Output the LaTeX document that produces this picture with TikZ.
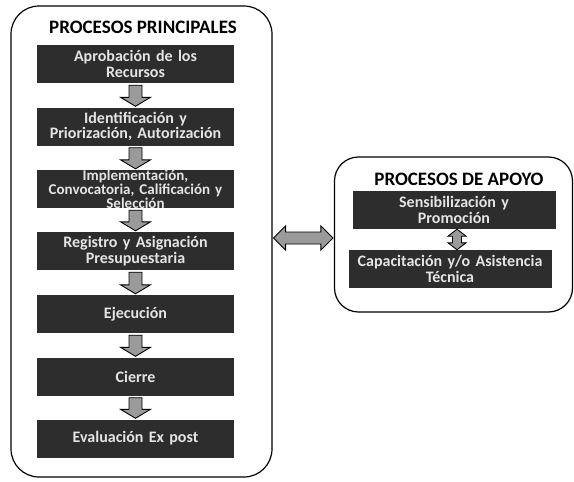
\documentclass[tikz,border=0pt]{standalone}
\usepackage{fontspec}
\setmainfont{Carlito}
\usetikzlibrary{calc}
\definecolor{boxgray}{HTML}{2C2D2C}
\definecolor{boxtext}{HTML}{E4E4E4}
\definecolor{arrowgray}{HTML}{9A9A9A}
\tikzset{
  procbox/.style={fill=boxgray, minimum width=197pt, minimum height=38pt, inner sep=0pt},
  supbox/.style={procbox, minimum width=203pt, minimum height=38pt},
  boxlabel/.style={text=boxtext, font=\bfseries\fontsize{16}{15.5}\selectfont,
    align=center, inner sep=0pt, text width=203pt},
  tightlabel/.style={boxlabel, font=\bfseries\fontsize{15}{14.2}\selectfont},
  frame/.style={draw=black, line width=1.2pt, rounded corners=28pt, rectangle, inner sep=0pt},
  blockarrow/.style={fill=arrowgray, draw=black, line width=0.9pt, line join=miter},
  titletext/.style={font=\bfseries\fontsize{19}{21}\selectfont, text=black}
}
\newcommand{\blockdown}[2]{%
  \path[blockarrow] let \p1=(#1.south), \p2=(#2.north) in
    (\x1-6.5pt,\y1-2pt) -- (\x1+6.5pt,\y1-2pt) -- (\x1+6.5pt,\y2+10pt) -- (\x1+15pt,\y2+10pt)
    -- (\x1,\y2+1pt) -- (\x1-15pt,\y2+10pt) -- (\x1-6.5pt,\y2+10pt) -- cycle;}
\begin{document}
\begin{tikzpicture}[x=1pt,y=-1pt]
  \useasboundingbox (0,0) rectangle (574,482);
  % main frame
  \node[frame, minimum width=261pt, minimum height=471pt] (main) at (141.5,241.5) {};
  \node[titletext] (t1) at (143,27) {PROCESOS PRINCIPALES};
  \node[procbox, label={[boxlabel]center:{Aprobación de los\\Recursos}}] (b1) at (135.5,64) {};
  \node[procbox, label={[boxlabel]center:{Identificación y\\Priorización, Autorización}}] (b2) at (135.5,126.5) {};
  \node[procbox, label={[tightlabel]center:{Implementación,\\Convocatoria, Calificación y\\Selección}}] (b3) at (135.5,189) {};
  \node[procbox, label={[boxlabel]center:{Registro y Asignación\\Presupuestaria}}] (b4) at (135.5,251) {};
  \node[procbox, label={[boxlabel]center:{Ejecución}}] (b5) at (135.5,314) {};
  \node[procbox, label={[boxlabel]center:{Cierre}}] (b6) at (135.5,376.5) {};
  \node[procbox, label={[boxlabel]center:{Evaluación Ex post}}] (b7) at (135.5,438.5) {};
  \blockdown{b1}{b2}
  \blockdown{b2}{b3}
  \blockdown{b3}{b4}
  \blockdown{b4}{b5}
  \blockdown{b5}{b6}
  \blockdown{b6}{b7}
  % support frame
  \node[frame, rounded corners=24pt, minimum width=238pt, minimum height=155pt] (apoyo) at (453.5,234.5) {};
  \node[titletext] (t2) at (459,179) {PROCESOS DE APOYO};
  \node[supbox, label={[boxlabel]center:{Sensibilización y\\Promoción}}] (s1) at (454,210) {};
  \node[supbox, label={[boxlabel]center:{Capacitación y/o Asistencia\\Técnica}}] (s2) at (450,269) {};
  % small vertical double arrow
  \path[blockarrow] let \p1=(s1.south), \p2=(s2.north) in
    (\x1+3pt,\y1) -- (\x1+12pt,\y1-7pt) -- (\x1+7.5pt,\y1-7pt) -- (\x1+7.5pt,\y2+7pt) -- (\x1+12pt,\y2+7pt)
    -- (\x1+3pt,\y2) -- (\x1-6pt,\y2+7pt) -- (\x1-1.5pt,\y2+7pt) -- (\x1-1.5pt,\y1-7pt) -- (\x1-6pt,\y1-7pt) -- cycle;
  % horizontal double arrow
  \coordinate (hm) at ($(main.east)!0.5!(apoyo.west)$);
  \path[blockarrow] let \p1=(main.east), \p2=(apoyo.west), \p3=(hm) in
    (\x1+1pt,\y3) -- (\x1+13pt,\y3+12pt) -- (\x1+13pt,\y3+6pt) -- (\x2-13pt,\y3+6pt) -- (\x2-13pt,\y3+12pt)
    -- (\x2-1pt,\y3) -- (\x2-13pt,\y3-12pt) -- (\x2-13pt,\y3-6pt) -- (\x1+13pt,\y3-6pt) -- (\x1+13pt,\y3-12pt) -- cycle;
\end{tikzpicture}
\end{document}
